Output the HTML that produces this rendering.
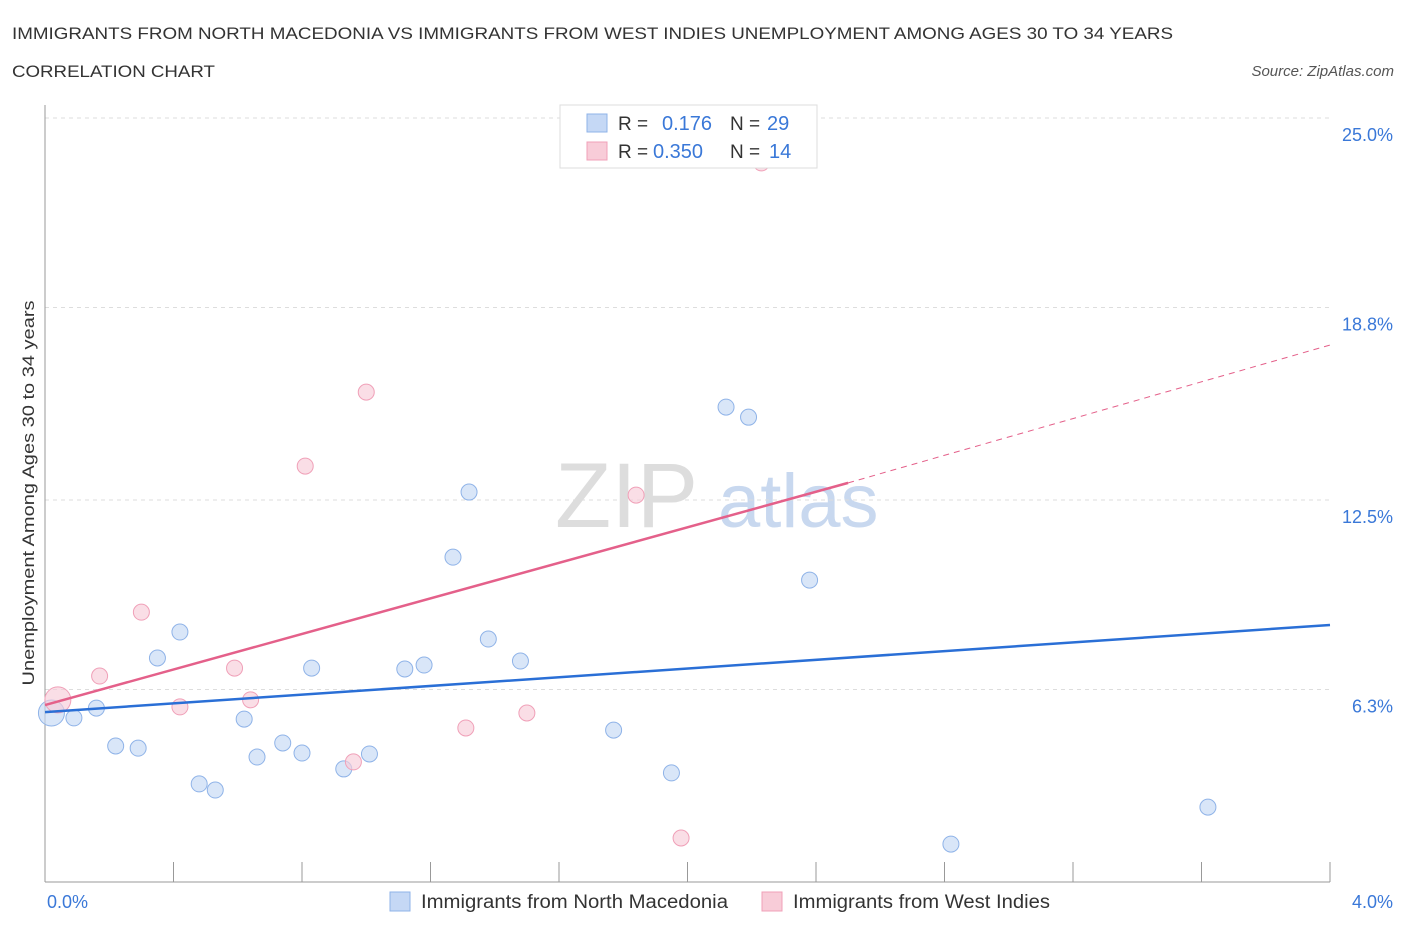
<!DOCTYPE html>
<html><head><meta charset="utf-8"><style>
body{margin:0;background:#fff;font-family:"Liberation Sans",sans-serif;}
svg text{font-family:"Liberation Sans",sans-serif;}
</style></head><body>
<svg id="c" width="1406" height="930">
<text x="12" y="39" font-size="17" fill="#333" textLength="1161" lengthAdjust="spacingAndGlyphs">IMMIGRANTS FROM NORTH MACEDONIA VS IMMIGRANTS FROM WEST INDIES UNEMPLOYMENT AMONG AGES 30 TO 34 YEARS</text>
<text x="12" y="77" font-size="17" fill="#333" textLength="203" lengthAdjust="spacingAndGlyphs">CORRELATION CHART</text>
<text x="1394" y="76" font-size="15" fill="#555" font-style="italic" text-anchor="end">Source: ZipAtlas.com</text>
<text x="555" y="527" font-size="92" fill="#ddd" font-family="Liberation Serif">ZIP</text>
<text x="718" y="527" font-size="76" fill="#c8d8ef">atlas</text>
<g id="grid"></g><g id="axes"></g><g id="marks"></g>
<text transform="translate(34,493) rotate(-90)" font-size="17" fill="#333" text-anchor="middle" textLength="385" lengthAdjust="spacingAndGlyphs">Unemployment Among Ages 30 to 34 years</text>
<g>
<rect x="560" y="105" width="257" height="63" fill="#fff" stroke="#ddd"/>
<rect x="587" y="114" width="20" height="18" fill="#c5d8f5" stroke="#8fb3e8"/>
<rect x="587" y="142" width="20" height="18" fill="#f8ccd8" stroke="#f0a0b8"/>
<text x="618" y="130" font-size="19" fill="#333">R = </text><text x="662" y="130" font-size="20" fill="#3a78d8">0.176</text>
<text x="730" y="130" font-size="19" fill="#333">N = </text><text x="767" y="130" font-size="20" fill="#3a78d8">29</text>
<text x="618" y="158" font-size="19" fill="#333">R = </text><text x="653" y="158" font-size="20" fill="#3a78d8">0.350</text>
<text x="730" y="158" font-size="19" fill="#333">N = </text><text x="769" y="158" font-size="20" fill="#3a78d8">14</text>
</g>
<g>
<rect x="390" y="892" width="20" height="19" fill="#c5d8f5" stroke="#8fb3e8"/>
<text x="421" y="908" font-size="19" fill="#333" textLength="307" lengthAdjust="spacingAndGlyphs">Immigrants from North Macedonia</text>
<rect x="762" y="892" width="20" height="19" fill="#f8ccd8" stroke="#f0a0b8"/>
<text x="793" y="908" font-size="19" fill="#333" textLength="257" lengthAdjust="spacingAndGlyphs">Immigrants from West Indies</text>
</g>
</svg>
<script>
const yTicks=[6.3,12.5,18.8,25.0];
const yTickLabels=["6.3%","12.5%","18.8%","25.0%"];
const xTickLabels=["0.0%","4.0%"];
const blueX=[0.02,0.09,0.16,0.22,0.29,0.35,0.42,0.48,0.53,0.62,0.66,0.74,0.80,0.83,0.93,1.01,1.12,1.18,1.27,1.32,1.38,1.48,1.77,1.95,2.12,2.19,2.38,2.82,3.62];
const blueY=[5.53,5.37,5.69,4.45,4.38,7.33,8.18,3.21,3.01,5.33,4.09,4.55,4.22,7.00,3.70,4.19,6.97,7.10,10.63,12.76,7.95,7.23,4.97,3.57,15.54,15.21,9.88,1.24,2.45];
const blueR=[13,8,8,8,8,8,8,8,8,8,8,8,8,8,8,8,8,8,8,8,8,8,8,8,8,8,8,8,8];
const pinkX=[0.04,0.17,0.30,0.42,0.59,0.64,0.81,0.96,1.00,1.31,1.50,1.84,1.98,2.23];
const pinkY=[5.96,6.74,8.83,5.73,7.00,5.96,13.61,3.93,16.03,5.04,5.53,12.66,1.44,23.53];
const pinkR=[13,8,8,8,8,8,8,8,8,8,8,8,8,8];
const blueLine=[[0,5.56],[4,8.41]];
const pinkLine=[[0,5.79],[2.5,13.06]];
const pinkDash=[[2.5,13.06],[4,17.57]];
const X0=45,X1=1330,Y0=882,Y25=118;
const sx=v=>X0+(X1-X0)*v/4;
const sy=v=>Y0-(Y0-Y25)*v/25;
const NS="http://www.w3.org/2000/svg";
function mk(p,t,a){const e=document.createElementNS(NS,t);for(const k in a)e.setAttribute(k,a[k]);p.appendChild(e);return e;}
const grid=document.getElementById('grid'),axes=document.getElementById('axes'),marks=document.getElementById('marks');
yTicks.forEach((t,i)=>{
 const l=mk(grid,'line',{x1:X0,x2:X1,y1:sy(t),y2:sy(t),stroke:'#ddd','stroke-dasharray':'4,4'});
 
 
 const tx=mk(axes,'text',{x:1393,y:sy(t)+23,'font-size':18,fill:'#3a78d8','text-anchor':'end'});
 tx.textContent=yTickLabels[i];
 
 
});
const al=mk(axes,'line',{x1:X0,x2:X1,y1:Y0,y2:Y0,stroke:'#999'});


const yl=mk(axes,'line',{x1:X0,x2:X0,y1:105,y2:Y0,stroke:'#999'});


for(let i=0;i<=10;i++){
 const x=sx(i*0.4);
 const t=mk(axes,'line',{x1:x,x2:x,y1:Y0-20,y2:Y0,stroke:'#999'});
 
 
}
[[X0+2,'start',0],[1393,'end',1]].forEach(([x,a,i])=>{
 const t=mk(axes,'text',{x:x,y:908,'font-size':18,fill:'#3a78d8','text-anchor':a});
 t.textContent=xTickLabels[i];
 
 
});
function pts(X,Y,R,fill,stroke,name){
 X.forEach((v,i)=>{
  const c=mk(marks,'circle',{cx:sx(v),cy:sy(Y[i]),r:R[i],fill:fill,stroke:stroke,'fill-opacity':0.65});
  
  
 });
}
pts(blueX,blueY,blueR,'#c5d8f5','#8fb3e8','north-macedonia-point');
pts(pinkX,pinkY,pinkR,'#f8ccd8','#f0a0b8','west-indies-point');
function line(d,col,w,dash,name){
 const l=mk(marks,'line',{x1:sx(d[0][0]),y1:sy(d[0][1]),x2:sx(d[1][0]),y2:sy(d[1][1]),stroke:col,'stroke-width':w});
 if(dash)l.setAttribute('stroke-dasharray',dash);
 
 
}
line(blueLine,'#2a6fd6',2.5,null,'north-macedonia-trendline');
line(pinkLine,'#e4608a',2.5,null,'west-indies-trendline');
line(pinkDash,'#e4608a',1,'6,5','west-indies-trendline-extension');
</script>
</body></html>
